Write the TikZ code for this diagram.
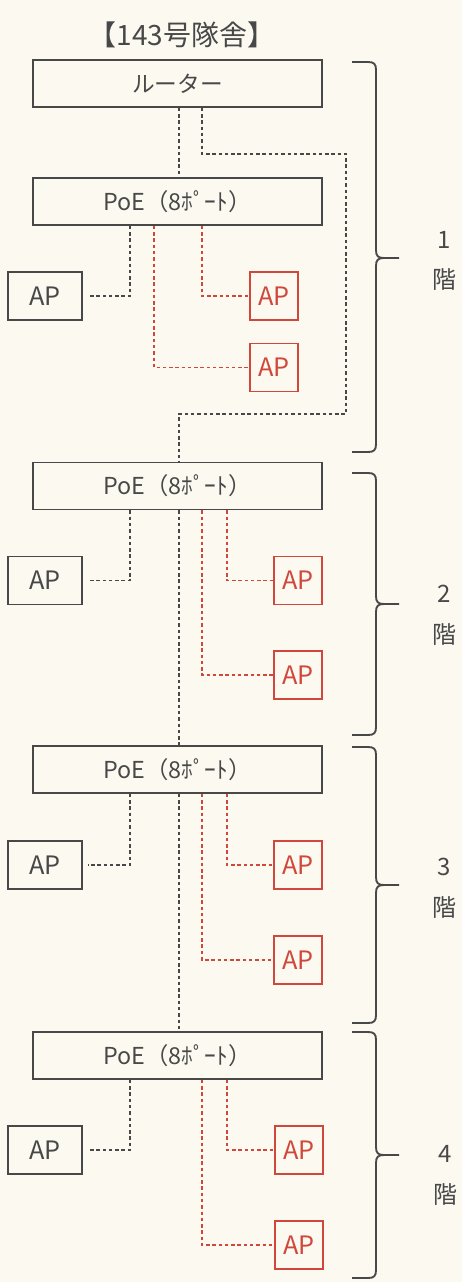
\documentclass[tikz,border=0pt]{standalone}
\usepackage{fontspec}
\setmainfont{Noto Sans CJK JP}
\usetikzlibrary{calc}
\definecolor{ink}{RGB}{72,72,72}
\definecolor{redink}{RGB}{208,72,60}
\definecolor{paper}{RGB}{251,249,240}
\newcommand\floorbrace[3]{%
  \draw[brc] (352,#1) -- (368,#1) .. controls (374,#1) and (376,{#1+2}) .. (376,{#1+8})
    -- (376,{#3-8}) .. controls (376,{#3-2}) and (378,#3) .. (384,#3) -- (399,#3);
  \draw[brc] (384,#3) .. controls (378,#3) and (376,{#3+2}) .. (376,{#3+8})
    -- (376,{#2-8}) .. controls (376,{#2-2}) and (374,#2) .. (368,#2) -- (352,#2);}
\begin{document}
\begin{tikzpicture}[x=0.75pt,y=-0.75pt,
  wide/.style={draw=ink,line width=1.4pt,minimum width=216.75pt,minimum height=35.25pt,inner sep=0pt,text=ink,font=\fontsize{17.5}{20}\selectfont},
  apb/.style={draw=ink,line width=1.4pt,minimum width=55.5pt,minimum height=36pt,inner sep=0pt,text=ink,font=\fontsize{19}{22}\selectfont},
  apr/.style={draw=redink,line width=1.4pt,minimum width=36pt,minimum height=36pt,inner sep=0pt,text=redink,font=\fontsize{19}{22}\selectfont},
  blk/.style={draw=ink,line width=1.4pt,dash pattern=on 2.6pt off 2.1pt},
  rdl/.style={draw=redink,line width=1.4pt,dash pattern=on 2.6pt off 2.1pt},
  brc/.style={draw=ink,line width=1.4pt},
  lbl/.style={text=ink,font=\fontsize{18}{20}\selectfont,inner sep=0pt}]
\fill[paper] (0,0) rectangle (462,1282);
\useasboundingbox (0,0) rectangle (462,1282);

\node[text=ink,font=\fontsize{21}{24}\selectfont,inner sep=0pt] (title) at (182,35) {【143号隊舎】};
\node[wide,font=\fontsize{17}{20}\selectfont] (router) at (177.5,83.5) {ルーター};

% floor 1
\node[wide] (poe1) at (177.5,201.5) {PoE（8ﾎﾟｰﾄ）};
\node[apb] (ap1) at (45,296) {AP};
\node[apr] (ra1) at (274,296) {AP};
\node[apr] (rb1) at (274,367.5) {AP};
% floor 2
\node[wide] (poe2) at (177.5,486) {PoE（8ﾎﾟｰﾄ）};
\node[apb] (ap2) at (45,580.5) {AP};
\node[apr] (ra2) at (298,580.5) {AP};
\node[apr] (rb2) at (298,675) {AP};
% floor 3
\node[wide] (poe3) at (177.5,769.5) {PoE（8ﾎﾟｰﾄ）};
\node[apb] (ap3) at (45,865) {AP};
\node[apr] (ra3) at (298,865) {AP};
\node[apr] (rb3) at (298,960) {AP};
% floor 4
\node[wide] (poe4) at (177.5,1055.5) {PoE（8ﾎﾟｰﾄ）};
\node[apb] (ap4) at (45,1150) {AP};
\node[apr] (ra4) at (299,1150) {AP};
\node[apr] (rb4) at (299,1245) {AP};

% router links
\draw[blk] ($(router.south)+(1.5,0)$) -- ($(poe1.north)+(1.5,0)$);
\draw[blk] ($(router.south)+(24.5,0)$) |- (346,154) |- (179,414) -- ($(poe2.north)+(1.5,0)$);
% floor 1 links
\draw[blk,shorten >=3.5pt] ($(poe1.south)+(-47.5,0)$) |- (ap1.east);
\draw[rdl] ($(poe1.south)+(24.5,0)$) |- (ra1.west);
\draw[rdl] ($(poe1.south)+(-23.5,0)$) |- (rb1.west);
% floors 2-4 links
\foreach \f in {2,3,4}{
  \draw[blk,shorten >=3.5pt] ($(poe\f.south)+(-47.5,0)$) |- (ap\f.east);
  \draw[rdl] ($(poe\f.south)+(49.5,0)$) |- (ra\f.west);
  \draw[rdl] ($(poe\f.south)+(24.5,0)$) |- (rb\f.west);
}
\draw[blk] ($(poe2.south)+(1.5,0)$) -- ($(poe3.north)+(1.5,0)$);
\draw[blk] ($(poe3.south)+(1.5,0)$) -- ($(poe4.north)+(1.5,0)$);

% braces
\floorbrace{62}{452}{258}
\floorbrace{473}{735}{604}
\floorbrace{747}{1023}{885}
\floorbrace{1032}{1278}{1155}

% floor labels
\node[lbl] (n1) at (444,240) {1};
\node[lbl] (k1) at (444,280) {階};
\node[lbl] (n2) at (444,594) {2};
\node[lbl] (k2) at (444,635) {階};
\node[lbl] (n3) at (444,867) {3};
\node[lbl] (k3) at (444,908) {階};
\node[lbl] (n4) at (445,1154) {4};
\node[lbl] (k4) at (445,1195) {階};
\end{tikzpicture}
\end{document}
